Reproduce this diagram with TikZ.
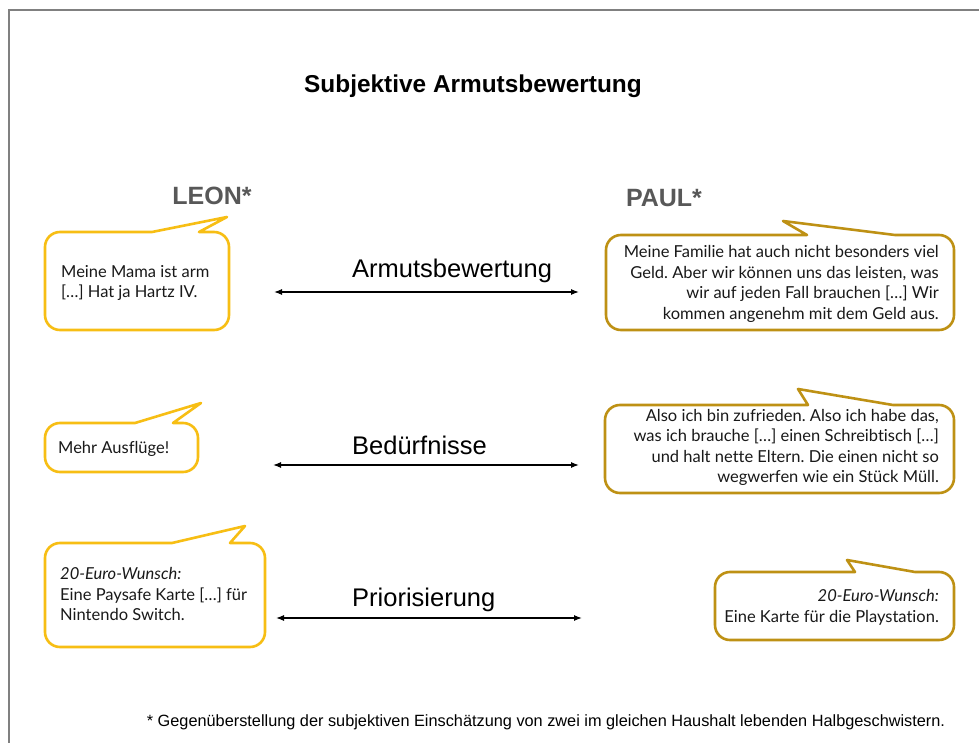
\documentclass[tikz,border=0pt]{standalone}
\usepackage{fontspec}
\setmainfont{Liberation Sans}
\newfontfamily\bubfont[Ligatures=NoCommon]{Lato}
\usetikzlibrary{arrows.meta}
\frenchspacing
\definecolor{leonc}{RGB}{247,190,20}
\definecolor{paulc}{RGB}{190,145,20}
\definecolor{framec}{RGB}{128,128,128}
\definecolor{namec}{RGB}{88,88,88}
\newcommand{\sbub}[9]{%
 \draw[bubline,draw=#1] ({#2+15},#3) -- (#6,#3) -- (#8,#9) -- (#7,#3) -- ({#4-15},#3)
   .. controls ({#4-6.7},#3) and (#4,{#3+6.7}) .. (#4,{#3+15}) -- (#4,{#5-15})
   .. controls (#4,{#5-6.7}) and ({#4-6.7},#5) .. ({#4-15},#5) -- ({#2+15},#5)
   .. controls ({#2+6.7},#5) and (#2,{#5-6.7}) .. (#2,{#5-15}) -- (#2,{#3+15})
   .. controls (#2,{#3+6.7}) and ({#2+6.7},#3) .. ({#2+15},#3) -- cycle;}
\tikzset{
 bubline/.style={line width=2.6pt, line join=round, fill=white},
 btext/.style={font=\bubfont\fontsize{16.5}{20.5}\selectfont, inner sep=0pt, text=black!90},
 namestyle/.style={font=\bfseries\fontsize{25}{28}\selectfont, text=namec, inner sep=0pt},
 dimlabel/.style={font=\fontsize{25.5}{28}\selectfont, anchor=west, inner sep=0pt},
 dimarrow/.style={{Latex[length=8pt,width=6pt]}-{Latex[length=8pt,width=6pt]}, line width=1.2pt}
}
\begin{document}
\begin{tikzpicture}[x=1pt,y=-1pt]
\useasboundingbox (0,0) rectangle (979,743);
\fill[white] (0,0) rectangle (979,743);
\draw[framec, line width=2pt] (8.5,743) -- (8.5,10.5) -- (979,10.5);

\node[font=\bfseries\fontsize{24.4}{28}\selectfont, inner sep=0pt] (title) at (473,86) {Subjektive Armutsbewertung};
\node[namestyle] (leon) at (212,196) {LEON*};
\node[namestyle] (paul) at (664,198) {PAUL*};

% bubbles
\sbub{leonc}{45}{232}{229}{330}{152}{199}{227}{217}
\sbub{paulc}{606}{235}{954}{330}{807}{895}{783}{221}
\sbub{leonc}{45}{423}{198}{472}{135}{173}{201}{403}
\sbub{paulc}{605}{405}{954}{493}{808}{893}{798}{389}
\sbub{leonc}{45}{543}{265}{647}{172}{230}{245}{526}
\sbub{paulc}{715}{572}{954}{640}{855}{915}{847}{560}

\node[btext, anchor=west, align=left] (leon1) at (61,283) {Meine Mama ist arm\\{[…]} Hat ja Hartz IV.};
\node[btext, anchor=east, align=right] (paul1) at (939,284) {Meine Familie hat auch nicht besonders viel\\Geld. Aber wir können uns das leisten, was\\wir auf jeden Fall brauchen […] Wir\\kommen angenehm mit dem Geld aus.};
\node[btext, anchor=west, align=left] (leon2) at (58,449) {Mehr Ausflüge!};
\node[btext, anchor=east, align=right] (paul2) at (939,447.5) {Also ich bin zufrieden. Also ich habe das,\\was ich brauche […] einen Schreibtisch […]\\und halt nette Eltern. Die einen nicht so\\wegwerfen wie ein Stück Müll.};
\node[btext, anchor=west, align=left] (leon3) at (60,594) {\textit{20-Euro-Wunsch:}\\Eine Paysafe Karte […] für\\Nintendo Switch.};
\node[btext, anchor=east, align=right] (paul3) at (939,607.5) {\textit{20-Euro-Wunsch:}\\Eine Karte für die Playstation.};

% dimensions
\coordinate (a1l) at (274,292); \coordinate (a1r) at (579,292);
\coordinate (a2l) at (273,465); \coordinate (a2r) at (579,465);
\coordinate (a3l) at (276,618); \coordinate (a3r) at (582,618);
\draw[dimarrow] (a1l) -- (a1r);
\draw[dimarrow] (a2l) -- (a2r);
\draw[dimarrow] (a3l) -- (a3r);
\node[dimlabel] (lab1) at (352,271) {Armutsbewertung};
\node[dimlabel] (lab2) at (352,445) {Bedürfnisse};
\node[dimlabel] (lab3) at (352,600) {Priorisierung};

\node[font=\fontsize{16.3}{19}\selectfont, inner sep=0pt] (foot) at (546,722) {* Gegenüberstellung der subjektiven Einschätzung von zwei im gleichen Haushalt lebenden Halbgeschwistern.};
\end{tikzpicture}
\end{document}
